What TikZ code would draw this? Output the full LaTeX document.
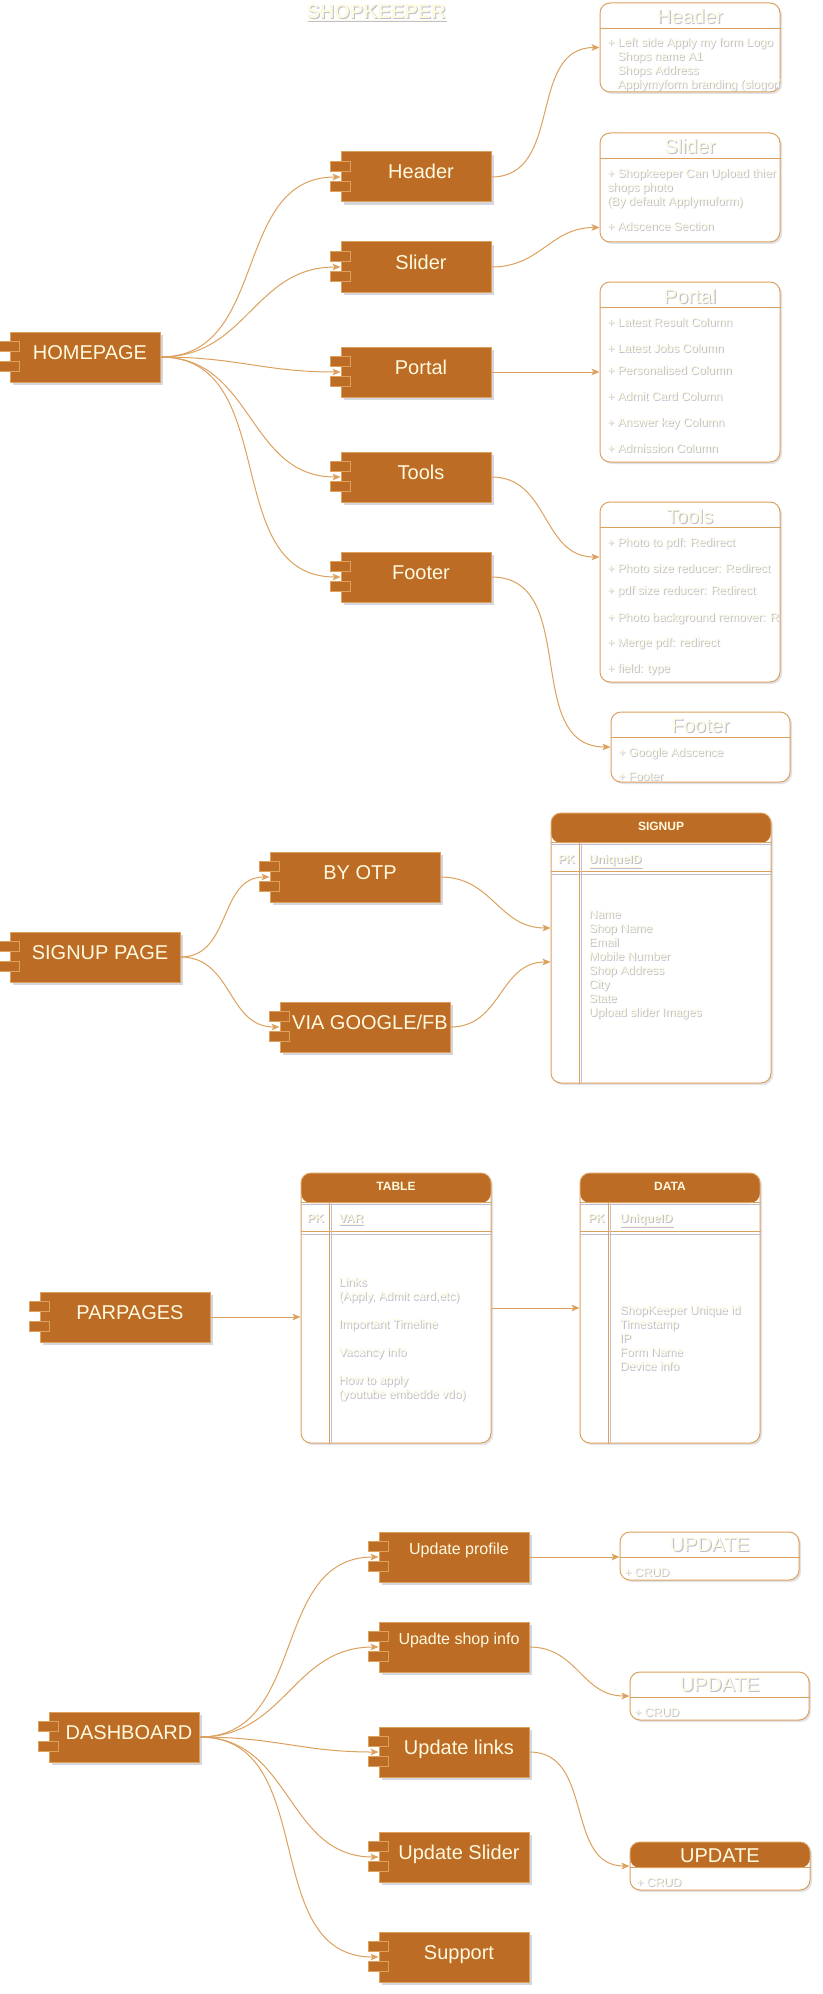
\documentclass[tikz,border=0pt]{standalone}
\usepackage{fontspec}
\setmainfont{Liberation Sans}
\usetikzlibrary{arrows.meta,shadows}
\definecolor{fillc}{HTML}{BC6C25}
\definecolor{linec}{HTML}{DDA15E}
\definecolor{textc}{HTML}{FEFAE0}
\definecolor{shadc}{HTML}{BFBFD0}
\definecolor{boxsh}{HTML}{8C8CAA}
\newcommand\fbig{\fontsize{15pt}{18pt}\selectfont}
\newcommand\fmed{\fontsize{12pt}{14.4pt}\selectfont}
\newcommand\fitem{\fontsize{9pt}{10.5pt}\selectfont}
\newcommand\shd[1]{\rlap{\kern0.8pt\raisebox{-0.8pt}{\textcolor{shadc}{#1}}}#1}

\begin{document}
\begin{tikzpicture}[
    x=0.75pt, y=-0.75pt,
    comp/.style={draw=linec, fill=fillc, text=textc, font=\fbig, line width=0.75pt,
        minimum width=112.5pt, minimum height=37.5pt, inner xsep=0pt, inner ysep=0pt,
        text height=20.25pt, text depth=17.25pt,
        execute at begin node={\hspace*{7.5pt}},
        drop shadow={shadow xshift=2pt, shadow yshift=-2pt, opacity=0.35, fill=boxsh}},
    compsm/.style={font=\fmed, text height=16.875pt, text depth=20.625pt},
    port/.style={draw=linec, fill=fillc, line width=0.75pt},
    cls/.style={draw=linec, fill=white, line width=0.75pt, rounded corners=7.5pt, inner sep=0pt,
        drop shadow={shadow xshift=1.5pt, shadow yshift=-1.5pt, opacity=0.25, fill=boxsh}},
    tbl/.style={cls, path picture={\fill[fillc] (path picture bounding box.north west)
        rectangle ([yshift=-22.5pt]path picture bounding box.north east);}},
    link/.style={draw=linec, line width=0.75pt, -{Stealth[length=6pt,width=5pt,inset=1.5pt]}, looseness=1.1},
    ttl/.style={font=\fbig, text=textc, inner sep=0pt},
    hdr/.style={font=\fitem\bfseries, text=textc, inner sep=0pt},
    item/.style={anchor=west, font=\fitem, text=textc, inner sep=0pt, text height=6.75pt, text depth=0pt},
    pk/.style={item, anchor=center, font=\fitem\bfseries},
    list/.style={anchor=north west, align=left, font=\fitem, text=textc, inner sep=0pt}
]
\path[use as bounding box, fill=white] (0,0) rectangle (822,1994);

\node[ttl, font=\fbig\bfseries] (main) at (376,13) {\shd{\underline{SHOPKEEPER}}};

\node[comp] (home) at (85,357) {HOMEPAGE};
\node[comp] (header) at (416,177) {Header};
\node[comp] (slider) at (416,267) {Slider};
\node[comp] (portal) at (416,372) {Portal};
\node[comp] (tools) at (416,477) {Tools};
\node[comp] (footer) at (416,577) {Footer};

\node[cls, minimum width=135pt, minimum height=66.75pt] (hbox) at (690,47.5) {};
\node[cls, minimum width=135pt, minimum height=81.75pt] (sbox) at (690,187.5) {};
\node[cls, minimum width=135pt, minimum height=135pt] (pbox) at (690,372) {};
\node[cls, minimum width=135pt, minimum height=135pt] (tbox) at (690,592) {};
\node[cls, minimum width=134.25pt, minimum height=52.5pt] (fbox) at (700.5,747) {};

\node[comp, minimum width=127.5pt] (spage) at (95,957) {SIGNUP PAGE};
\node[comp, minimum width=127.5pt] (otp) at (355,877) {BY OTP};
\node[comp, minimum width=127.5pt] (via) at (365,1027) {VIA GOOGLE/FB};
\node[tbl, minimum width=165pt, minimum height=202.5pt] (sig) at (661,948) {};

\node[comp, minimum width=127.5pt] (parp) at (125,1317) {PARPAGES};
\node[tbl, minimum width=142.5pt, minimum height=202.5pt] (tab) at (396,1308) {};
\node[tbl, minimum width=135pt, minimum height=202.5pt] (dat) at (670,1308) {};

\node[comp] (dash) at (124,1737) {DASHBOARD};
\node[comp, compsm] (uprof) at (454,1557) {Update profile};
\node[comp, compsm] (ushop) at (454,1647) {Upadte shop info};
\node[comp] (ulinks) at (454,1752) {Update links};
\node[comp] (uslider) at (454,1857) {Update Slider};
\node[comp] (support) at (454,1957) {Support};
\node[cls, minimum width=134.25pt, minimum height=36pt] (up1) at (709.5,1556) {};
\node[cls, minimum width=134.25pt, minimum height=36pt] (up2) at (719.5,1696) {};
\node[cls, minimum width=135pt, minimum height=36pt,
    path picture={\fill[fillc] (path picture bounding box.north west)
        rectangle ([yshift=-19.5pt]path picture bounding box.north east);}] (up3) at (720,1866) {};

\foreach \c in {home,header,slider,portal,tools,footer,spage,otp,via,parp,dash,uprof,ushop,ulinks,uslider,support} {
    \draw[port] ([shift={(-10,10)}]\c.north west) rectangle ++(20,10);
    \draw[port] ([shift={(-10,30)}]\c.north west) rectangle ++(20,10);
}
\foreach \b in {hbox,sbox,pbox,tbox,fbox,up1,up2,up3}
    \draw[linec, line width=0.75pt] ([shift={(0,26)}]\b.north west) -- ([shift={(0,26)}]\b.north east);
\foreach \t in {sig,tab,dat} {
    \draw[shadc, line width=0.75pt] ([shift={(0,32)}]\t.north west) -- ([shift={(0,32)}]\t.north east);
    \draw[linec, line width=0.75pt] ([shift={(0,30)}]\t.north west) -- ([shift={(0,30)}]\t.north east);
    \draw[shadc, line width=0.75pt] ([shift={(0,62)}]\t.north west) -- ([shift={(0,62)}]\t.north east);
    \draw[linec, line width=0.75pt] ([shift={(0,59)}]\t.north west) -- ([shift={(0,59)}]\t.north east);
    \draw[shadc, line width=0.75pt] ([shift={(31,31)}]\t.north west) -- ([shift={(31,0)}]\t.south west);
    \draw[linec, line width=0.75pt] ([shift={(29,30)}]\t.north west) -- ([shift={(29,0)}]\t.south west);
}

\node[ttl] (htl) at ([shift={(0,14)}]hbox.north) {\shd{Header}};
\node[ttl] (stl) at ([shift={(0,14)}]sbox.north) {\shd{Slider}};
\node[ttl] (ptl) at ([shift={(0,15)}]pbox.north) {\shd{Portal}};
\node[ttl] (ttl) at ([shift={(0,15)}]tbox.north) {\shd{Tools}};
\node[ttl] (ftl) at ([shift={(0,15)}]fbox.north) {\shd{Footer}};
\node[ttl] (u1tl) at ([shift={(0,14)}]up1.north) {\shd{UPDATE}};
\node[ttl] (u2tl) at ([shift={(0,14)}]up2.north) {\shd{UPDATE}};
\node[ttl] (u3tl) at ([shift={(0,14)}]up3.north) {UPDATE};

\begin{scope}
    \clip (hbox.north west) rectangle (hbox.south east);
    \node[list] (hl) at (607,37.5) {\shd{+ Left side Apply my form Logo}\\
        \hspace*{7.5pt}\shd{Shops name A1}\\
        \hspace*{7.5pt}\shd{Shops Address}\\
        \hspace*{7.5pt}\shd{Applymyform branding (slogon)}};
\end{scope}
\begin{scope}
    \clip (sbox.north west) rectangle (sbox.south east);
    \node[list] (sl) at (607,168.5) {\shd{+ Shopkeeper Can Upload thier}\\
        \shd{shops photo}\\
        \shd{(By default Applymuform)}};
\end{scope}
\node[item] (s2) at (607,226) {\shd{+ Adscence Section}};

\node[item] (p1) at (607,322) {\shd{+ Latest Result Column}};
\node[item] (p2) at (607,348) {\shd{+ Latest Jobs Column}};
\node[item] (p3) at (607,370) {\shd{+ Personalised Column}};
\node[item] (p4) at (607,396) {\shd{+ Admit Card Column}};
\node[item] (p5) at (607,422) {\shd{+ Answer key Column}};
\node[item] (p6) at (607,448) {\shd{+ Admission Column}};

\node[item] (t1) at (607,542) {\shd{+ Photo to pdf: Redirect}};
\node[item] (t2) at (607,568) {\shd{+ Photo size reducer: Redirect}};
\node[item] (t3) at (607,590) {\shd{+ pdf size reducer: Redirect}};
\node[item] (t4) at (607,617) {\shd{+ Photo background remover: R}};
\node[item] (t5) at (607,642) {\shd{+ Merge pdf: redirect}};
\node[item] (t6) at (607,668) {\shd{+ field: type}};

\node[item] (f1) at (618,752) {\shd{+ Google Adscence}};
\node[item] (f2) at (618,776) {\shd{+ Footer}};

\node[item] (c1) at (624,1572) {\shd{+ CRUD}};
\node[item] (c2) at (634,1712) {\shd{+ CRUD}};
\node[item] (c3) at (636,1882) {\shd{+ CRUD}};

\node[hdr] (sigt) at ([shift={(0,14)}]sig.north) {SIGNUP};
\node[pk] (sigpk) at ([shift={(16,46)}]sig.north west) {\shd{PK}};
\node[pk, anchor=west] (sigid) at ([shift={(38,46)}]sig.north west) {\shd{\underline{UniqueID}}};
\node[list] (sigl) at ([shift={(38,97.5)}]sig.north west) {\shd{Name}\\ \shd{Shop Name}\\ \shd{Email}\\
    \shd{Mobile Number}\\ \shd{Shop Address}\\ \shd{City}\\ \shd{State}\\ \shd{Upload slider Images}};

\node[hdr] (tabt) at ([shift={(0,14)}]tab.north) {TABLE};
\node[pk] (tabpk) at ([shift={(15,45)}]tab.north west) {\shd{PK}};
\node[pk, anchor=west] (tabid) at ([shift={(38,45)}]tab.north west) {\shd{\underline{VAR}}};
\node[list] (tabl) at ([shift={(38,104.5)}]tab.north west) {\shd{Links}\\ \shd{(Apply, Admit card,etc)}\\[10.5pt]
    \shd{Important Timeline}\\[10.5pt] \shd{Vacancy info}\\[10.5pt]
    \shd{How to apply}\\ \shd{(youtube embedde vdo)}};

\node[hdr] (datt) at ([shift={(0,14)}]dat.north) {DATA};
\node[pk] (datpk) at ([shift={(17,45)}]dat.north west) {\shd{PK}};
\node[pk, anchor=west] (datid) at ([shift={(40,45)}]dat.north west) {\shd{\underline{UniqueID}}};
\node[list] (datl) at ([shift={(40,132.5)}]dat.north west) {\shd{ShopKeeper Unique id}\\ \shd{Timestamp}\\
    \shd{IP}\\ \shd{Form Name}\\ \shd{Device info}};

\draw[link] (home.east) to[out=0,in=180] (header.west);
\draw[link] (home.east) to[out=0,in=180] (slider.west);
\draw[link] (home.east) to[out=0,in=180] (portal.west);
\draw[link] (home.east) to[out=0,in=180] (tools.west);
\draw[link] (home.east) to[out=0,in=180] (footer.west);
\draw[link] (header.east) to[out=0,in=180] (hbox.west);
\draw[link] (slider.east) to[out=0,in=180] ([shift={(0,40)}]sbox.west);
\draw[link] (portal.east) -- (pbox.west);
\draw[link] (tools.east) to[out=0,in=180] ([shift={(0,-35)}]tbox.west);
\draw[link] (footer.east) to[out=0,in=180] (fbox.west);

\draw[link] (spage.east) to[out=0,in=180] (otp.west);
\draw[link] (spage.east) to[out=0,in=180] (via.west);
\draw[link] (otp.east) to[out=0,in=180] ([shift={(0,-20)}]sig.west);
\draw[link] (via.east) to[out=0,in=180] ([shift={(0,14)}]sig.west);

\draw[link] (parp.east) -- (parp.east -| tab.west);
\draw[link] (tab.east) -- (dat.west);

\draw[link] (dash.east) to[out=0,in=180] (uprof.west);
\draw[link] (dash.east) to[out=0,in=180] (ushop.west);
\draw[link] (dash.east) to[out=0,in=180] (ulinks.west);
\draw[link] (dash.east) to[out=0,in=180] (uslider.west);
\draw[link] (dash.east) to[out=0,in=180] (support.west);
\draw[link] (uprof.east) -- (uprof.east -| up1.west);
\draw[link] (ushop.east) to[out=0,in=180] (up2.west);
\draw[link] (ulinks.east) to[out=0,in=180] (up3.west);
\end{tikzpicture}
\end{document}
